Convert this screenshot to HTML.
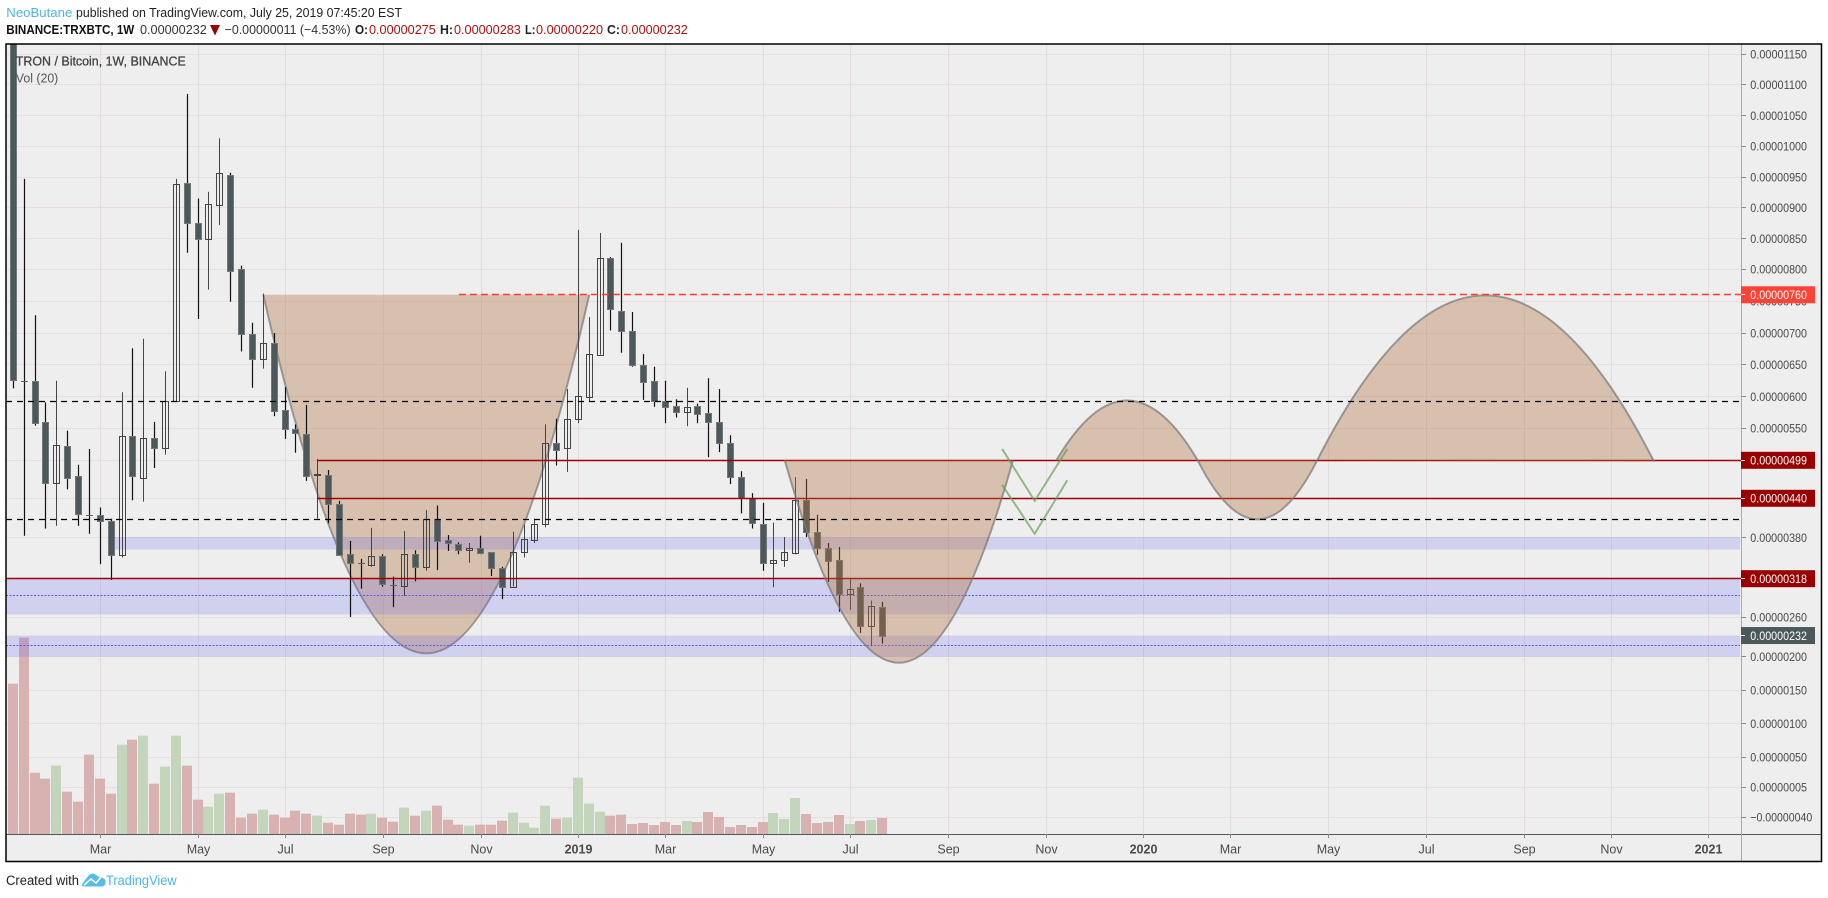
<!DOCTYPE html>
<html lang="en">
<head>
<meta charset="utf-8">
<title>TRXBTC weekly chart</title>
<style>
html,body{margin:0;padding:0;background:#fff;width:1828px;height:898px;overflow:hidden}
svg{display:block}
text{font-family:"Liberation Sans",sans-serif}
</style>
</head>
<body>
<svg id="chart" xmlns="http://www.w3.org/2000/svg" width="1828" height="898" viewBox="0 0 1828 898">
  <defs><clipPath id="plotClip"><rect x="6.5" y="44.5" width="1734.5" height="789.5"/></clipPath></defs>
  <g font-size="13">
    <text x="6.3" y="17" fill="#4fb5e8" textLength="66" lengthAdjust="spacingAndGlyphs">NeoButane</text>
    <text x="76" y="17" fill="#222" textLength="326" lengthAdjust="spacingAndGlyphs">published on TradingView.com, July 25, 2019 07:45:20 EST</text>
    <text x="6.3" y="34" fill="#111" font-weight="bold" textLength="128" lengthAdjust="spacingAndGlyphs">BINANCE:TRXBTC, 1W</text>
    <text x="140" y="34" fill="#333" textLength="66.8" lengthAdjust="spacingAndGlyphs">0.00000232</text>
    <polygon points="210,25 220,25 215,35.5" fill="#990000"/>
    <text x="224.6" y="34" fill="#333" textLength="126" lengthAdjust="spacingAndGlyphs">−0.00000011 (−4.53%)</text>
    <text x="355" y="34" fill="#222" font-weight="bold" textLength="13" lengthAdjust="spacingAndGlyphs">O:</text>
    <text x="369" y="34" fill="#b01010" textLength="66.8" lengthAdjust="spacingAndGlyphs">0.00000275</text>
    <text x="440" y="34" fill="#222" font-weight="bold" textLength="13" lengthAdjust="spacingAndGlyphs">H:</text>
    <text x="454" y="34" fill="#b01010" textLength="66.8" lengthAdjust="spacingAndGlyphs">0.00000283</text>
    <text x="525" y="34" fill="#222" font-weight="bold" textLength="10.5" lengthAdjust="spacingAndGlyphs">L:</text>
    <text x="536" y="34" fill="#b01010" textLength="67" lengthAdjust="spacingAndGlyphs">0.00000220</text>
    <text x="607" y="34" fill="#222" font-weight="bold" textLength="13" lengthAdjust="spacingAndGlyphs">C:</text>
    <text x="621" y="34" fill="#b01010" textLength="66.8" lengthAdjust="spacingAndGlyphs">0.00000232</text>
  </g>
  <rect x="6" y="44" width="1815.5" height="817.5" fill="#eeeeef"/>
  <g id="plot" clip-path="url(#plotClip)"></g>
  <g id="axes"></g>
  <rect x="6" y="44" width="1815.5" height="817.5" fill="none" stroke="#000" stroke-width="1.5"/>
  <text x="15.8" y="65.5" font-size="13" fill="#444" stroke="#444" stroke-width="0.3" textLength="170" lengthAdjust="spacingAndGlyphs">TRON / Bitcoin, 1W, BINANCE</text>
  <text x="15.8" y="82.5" font-size="13" fill="#555" textLength="42.5" lengthAdjust="spacingAndGlyphs">Vol (20)</text>
  <g>
    <text x="6" y="885" font-size="13.5" fill="#222" textLength="73" lengthAdjust="spacingAndGlyphs">Created with</text>
    <g>
      <path d="M82 884 L89 875 Q93 872 96 875 L99 877 Q104 877 105.5 881 Q106 886 102 886.5 L85 886.5 Q81 886.5 82 884 Z" fill="#55bde8"/>
      <polyline points="84,885 91,879 96,883 102,876" fill="none" stroke="#fff" stroke-width="1.6"/>
    </g>
    <text x="106" y="885" font-size="13.5" fill="#4fb5e8" textLength="70.7" lengthAdjust="spacingAndGlyphs">TradingView</text>
  </g>
</svg>
<script>
// Prices in 1e-8 BTC. One entry per weekly bar.
const opens = [1400,624,624,560,463,521,474,414,415,406,354,537,472,535,518,593,940,875,850,904,954,800,698,659,684,579,549,541,476,476,432,355,341,339,352,308,307,355,336,409,377,371,362,365,358,334,306,359,377,401,526,518,564,600,666,818,734,703,649,624,593,585,576,585,574,560,526,473,441,401,341,346,357,438,388,365,346,295,305,247,275];
const closes = [626,624,559,463,523,472,416,414,405,354,537,474,535,518,593,938,875,850,906,956,798,698,659,684,577,549,542,475,477,431,354,341,341,352,310,308,355,336,409,375,372,362,365,357,334,306,359,378,401,526,516,565,601,667,818,737,703,649,623,593,584,576,583,573,560,526,473,440,402,341,347,358,438,388,365,345,295,303,247,276,232];
const highs = [1500,947,728,591,625,546,492,517,426,409,607,676,691,560,640,947,1085,915,926,1013,957,806,716,762,700,615,556,587,501,484,436,375,348,395,355,321,390,361,422,429,384,373,372,383,358,336,389,400,409,556,565,612,864,725,859,820,843,733,667,647,625,596,614,589,629,612,539,482,448,433,403,381,473,470,415,372,366,319,311,285,283];
const lows = [613,383,554,394,398,454,398,386,340,316,350,437,435,487,508,593,827,722,768,872,749,671,614,644,569,533,511,467,409,402,354,260,303,336,306,275,292,314,330,331,360,355,342,355,322,287,306,350,372,396,491,481,558,593,666,704,669,647,595,584,558,567,553,558,504,512,462,417,394,330,305,336,355,381,354,313,268,271,236,216,220];
const volumes = [451,589,184,166,205,127,97,238,166,121,268,283,295,151,202,295,205,103,82,121,124,49,61,73,58,49,70,61,55,34,28,61,58,61,49,37,79,55,70,85,43,28,25,28,28,40,64,34,19,85,46,49,169,91,67,55,58,30,33,27,36,27,39,36,66,51,21,27,21,36,63,45,108,60,33,36,57,30,39,42,48];

// Axis labels
const priceTicks = [1150,1100,1050,1000,950,900,850,800,750,700,650,600,550,380,260,200,150,100,50,5,-40];
const extraGridPrices = [499,440,318];
const timeTickBars = [8,17,25,34,43,52,60,69,77,86,95,104,112,121,130,139,147,156];
const timeTickLabels = ['Mar','May','Jul','Sep','Nov','2019','Mar','May','Jul','Sep','Nov','2020','Mar','May','Jul','Sep','Nov','2021'];

// Annotations, as [bar index, price]
const zoneTops = [381,318,232];
const zoneBottoms = [362,264,200];
const zoneStartBars = [9.26,-1,-1];
const dottedLevels = [292,217];
const dashedLevels = [593,408];
const solidLevels = [499,440,318];
const solidStartBars = [28,28,-1];
const targetLevel = 760;
const targetStartBar = 41;
const tagValues = [760,499,440,318,232];
const tagColors = ['#fe4336','#990000','#990000','#990000','#4c585a'];
const curveUnderStart = [23,760];
const curveUnderApex = [38,205];
const curveUnderEnd = [53,760];
const curveOverStarts = [[71,499],[96,499],[109,499],[120,499]];
const curveOverApexes = [[81.5,191],[102.5,594],[114.5,408],[135.5,759]];
const curveOverEnds = [[92,499],[109,499],[120,499],[151,497]];
const checkMarks = [[[91,517],[94,436],[97,517]],[[91,461],[94,386],[97,468]]];

const PLOT_LEFT = 6, PLOT_RIGHT = 1741, VOL_BASE = 834;
function xOf(i){ return 13.4 + 10.865 * i; }
function yOf(p){
  const k = [[1150,54],[800,269.3],[600,396.7],[499,460.3],[440,498.3],[380,537.7],[200,656.7],[-40,817.3]];
  for (let n = 0; n < k.length - 1; n++) {
    if (p >= k[n+1][0] || n === k.length - 2) {
      return k[n][1] + (p - k[n][0]) * (k[n+1][1] - k[n][1]) / (k[n+1][0] - k[n][0]);
    }
  }
}
function volY(v){ return VOL_BASE - v / 3; }
function priceText(p){ const s = (Math.abs(p) * 1e-8).toFixed(8); return (p < 0 ? '−' : '') + s; }
const NS = 'http://www.w3.org/2000/svg';
const plot = document.getElementById('plot');
const axes = document.getElementById('axes');
function make(tag, parent, attrs){
  const n = document.createElementNS(NS, tag);
  for (const a in attrs) n.setAttribute(a, attrs[a]);
  parent.appendChild(n);
  return n;
}
function curvePath(s, a, e){
  const x0 = xOf(s[0]), y0 = yOf(s[1]), x2 = xOf(e[0]), y2 = yOf(e[1]);
  const cx = 2 * xOf(a[0]) - (x0 + x2) / 2, cy = 2 * yOf(a[1]) - (y0 + y2) / 2;
  return 'M' + x0 + ' ' + y0 + ' Q' + cx + ' ' + cy + ' ' + x2 + ' ' + y2;
}
function drawCurve(parent, s, a, e){
  const d = curvePath(s, a, e);
  const f = make('path', parent, {d: d + ' Z', fill: 'rgba(180,113,63,.37)', stroke: 'none'});
  
  
  const l = make('path', parent, {d: d, fill: 'none', stroke: 'rgba(120,120,120,.7)', 'stroke-width': 2});
  
  
}
function crisp(v){ return Math.round(v) + 0.5; }
function level(v){ return Math.floor(v) + 0.5; }

// Grid
const gridLayer = make('g', plot, {});


priceTicks.concat(extraGridPrices).forEach(function(p){
  const line = make('line', gridLayer, {x1: PLOT_LEFT, x2: PLOT_RIGHT, y1: level(yOf(p)), y2: level(yOf(p)), stroke: '#e6dfe1', 'stroke-width': 1});
  
  
});
timeTickBars.forEach(function(b){
  const line = make('line', gridLayer, {x1: crisp(xOf(b)), x2: crisp(xOf(b)), y1: 44, y2: VOL_BASE, stroke: '#e2dcdf', 'stroke-width': 1});
  
  
});

// Volume
const volLayer = make('g', plot, {});


volumes.forEach(function(v, i){
  const up = closes[i] > opens[i];
  const bar = make('rect', volLayer, {x: Math.floor(xOf(i)) - 5, y: volY(v), width: 10, height: VOL_BASE - volY(v), fill: up ? '#c3d6bb' : '#d8b1b1'});
  
  
});

// First curve sits under the zones and candles
const cupUnder = make('g', plot, {});


drawCurve(cupUnder, curveUnderStart, curveUnderApex, curveUnderEnd);

// Zones
const zoneLayer = make('g', plot, {});


zoneTops.forEach(function(t, i){
  const x0 = Math.max(xOf(zoneStartBars[i]), PLOT_LEFT);
  const r = make('rect', zoneLayer, {x: x0, y: yOf(t), width: 1740 - x0, height: yOf(zoneBottoms[i]) - yOf(t), fill: 'rgba(90,90,240,.2)'});
  
  
});
dottedLevels.forEach(function(p){
  const l = make('line', zoneLayer, {x1: PLOT_LEFT, x2: 1740, y1: level(yOf(p)), y2: level(yOf(p)), stroke: '#5b5bf5', 'stroke-width': 1, 'stroke-dasharray': '2 1.5'});
  
  
});

// Candles
const candleLayer = make('g', plot, {});


opens.forEach(function(o, i){
  const c = closes[i], up = c > o;
  const cx = Math.floor(xOf(i)) + 0.5;
  const g = make('g', candleLayer, {});
  
  
  const wick = make('line', g, {x1: cx, x2: cx, y1: yOf(highs[i]), y2: yOf(lows[i]), stroke: up ? '#444' : '#111', 'stroke-width': up ? 1 : 1.2});
  
  
  const top = crisp(yOf(Math.max(o, c))), bot = crisp(yOf(Math.min(o, c)));
  let body;
  if (top === bot) {
    body = make('line', g, {x1: cx - 3.5, x2: cx + 3.5, y1: top, y2: top, stroke: '#5a6468', 'stroke-width': 1});
  } else {
    body = make('rect', g, {x: cx - 3, y: top, width: 6, height: bot - top, fill: up ? 'none' : '#4c585a', stroke: up ? '#444' : '#70787c', 'stroke-width': 1});
  }
  
  
});

// Solid levels
const levelLayer = make('g', plot, {});


solidLevels.forEach(function(p, i){
  const l = make('line', levelLayer, {x1: Math.max(xOf(solidStartBars[i]) - 0.5, PLOT_LEFT), x2: PLOT_RIGHT, y1: level(yOf(p)), y2: level(yOf(p)), stroke: '#a00000', 'stroke-width': 1.4});
  
  
});

// Later curves sit over the candles
const cupOver = make('g', plot, {});


curveOverStarts.forEach(function(s, i){
  drawCurve(cupOver, s, curveOverApexes[i], curveOverEnds[i]);
});

// Target level
const target = make('line', plot, {x1: xOf(targetStartBar), x2: PLOT_RIGHT, y1: level(yOf(targetLevel)), y2: level(yOf(targetLevel)), stroke: '#ff3b2f', 'stroke-width': 1.5, 'stroke-dasharray': '7 4'});



// Dashed levels
dashedLevels.forEach(function(p){
  const l = make('line', plot, {x1: PLOT_LEFT, x2: 1739, y1: level(yOf(p)), y2: level(yOf(p)), stroke: '#000', 'stroke-width': 1.2, 'stroke-dasharray': '6 5'});
  
  
});

// Green checks
checkMarks.forEach(function(m){
  const pts = m.map(function(q){ return xOf(q[0]) + ',' + yOf(q[1]); }).join(' ');
  const l = make('polyline', plot, {points: pts, fill: 'none', stroke: 'rgba(110,160,90,.7)', 'stroke-width': 2});
  
  
});

// Axes
const xAxis = make('line', axes, {x1: 6, x2: 1821, y1: VOL_BASE + 0.5, y2: VOL_BASE + 0.5, stroke: '#50585c', 'stroke-width': 1});


const yAxis = make('line', axes, {x1: PLOT_RIGHT + 0.5, x2: PLOT_RIGHT + 0.5, y1: 44, y2: 861, stroke: '#aaa', 'stroke-width': 1});


timeTickBars.forEach(function(b, i){
  const x = crisp(xOf(b));
  const t = make('line', axes, {x1: x, x2: x, y1: VOL_BASE, y2: VOL_BASE + 4, stroke: '#888', 'stroke-width': 1});
  
  
  const isYear = /^\d/.test(timeTickLabels[i]);
  const lab = make('text', axes, {x: x, y: 853.5, 'text-anchor': 'middle', 'font-size': 12.5, fill: '#4a4a4a', 'font-weight': isYear ? 'bold' : 'normal'});
  
  
  lab.textContent = timeTickLabels[i];
});
priceTicks.forEach(function(p){
  const y = yOf(p);
  const t = make('line', axes, {x1: PLOT_RIGHT + 1, x2: PLOT_RIGHT + 5, y1: level(y), y2: level(y), stroke: '#888', 'stroke-width': 1});
  
  
  const lab = make('text', axes, {x: 1750.3, y: y + 4.3, 'font-size': 12, fill: '#4a4a4a', textLength: p < 0 ? 62 : 56.7, lengthAdjust: 'spacingAndGlyphs'});
  
  
  lab.textContent = priceText(p);
});
tagValues.forEach(function(p, i){
  const y = yOf(p);
  const r = make('rect', axes, {x: 1741, y: y - 8.5, width: 74, height: 17, fill: tagColors[i]});
  
  
  const t = make('line', axes, {x1: 1741, x2: 1745, y1: level(y), y2: level(y), stroke: '#fff', 'stroke-width': 1});
  
  
  const lab = make('text', axes, {x: 1750.3, y: y + 4.3, 'font-size': 12, fill: '#fff', textLength: 56.7, lengthAdjust: 'spacingAndGlyphs'});
  
  
  lab.textContent = priceText(p);
});
</script>
</body>
</html>
